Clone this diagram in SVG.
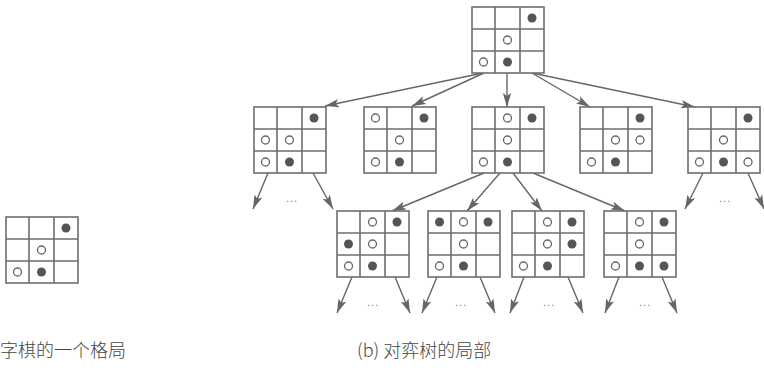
<svg xmlns="http://www.w3.org/2000/svg" xmlns:xlink="http://www.w3.org/1999/xlink" width="764" height="376" viewBox="0 0 764 376">
<style>
.g{fill:#fff;stroke:#6e6e6e;stroke-width:1.6}
.x{fill:#555}
.o{fill:#fff;stroke:#666;stroke-width:1.3}
.e{stroke:#666;stroke-width:1.4;fill:none}
.dots{font-family:"Liberation Sans",sans-serif;font-size:11px;fill:#777;text-anchor:middle;letter-spacing:1px}
.cap{font-family:"Noto Sans CJK SC","Liberation Sans",sans-serif;font-size:18px;fill:#444;font-weight:300}
</style>
<defs>
<marker id="ah" markerUnits="userSpaceOnUse" markerWidth="16" markerHeight="10" refX="14" refY="5" orient="auto">
<path d="M0,0.8 L14,5 L0,9.2 L3,5 Z" fill="#666"/>
</marker>
<g id="grid">
<rect class="g" x="0" y="0" width="72" height="66"/>
<path class="g" d="M23,0V66M48,0V66M0,22H72M0,44H72"/>
</g>
</defs>
<rect width="764" height="376" fill="#fff"/>

<g id="connectors">
<line class="e" x1="483" y1="73" x2="325" y2="106" marker-end="url(#ah)"/>
<line class="e" x1="484" y1="73" x2="412" y2="106" marker-end="url(#ah)"/>
<line class="e" x1="507" y1="73" x2="507" y2="107" marker-end="url(#ah)"/>
<line class="e" x1="532" y1="73" x2="590" y2="107" marker-end="url(#ah)"/>
<line class="e" x1="532" y1="73" x2="695" y2="107" marker-end="url(#ah)"/>
<line class="e" x1="268" y1="173" x2="253" y2="209" marker-end="url(#ah)"/>
<line class="e" x1="313" y1="173" x2="333" y2="209" marker-end="url(#ah)"/>
<line class="e" x1="484" y1="173" x2="392" y2="211" marker-end="url(#ah)"/>
<line class="e" x1="500" y1="173" x2="467" y2="211" marker-end="url(#ah)"/>
<line class="e" x1="513" y1="173" x2="542" y2="211" marker-end="url(#ah)"/>
<line class="e" x1="533" y1="173" x2="625" y2="211" marker-end="url(#ah)"/>
<line class="e" x1="703" y1="173" x2="685" y2="209" marker-end="url(#ah)"/>
<line class="e" x1="748" y1="173" x2="764" y2="209" marker-end="url(#ah)"/>
<line class="e" x1="352" y1="277" x2="337" y2="313" marker-end="url(#ah)"/>
<line class="e" x1="395" y1="277" x2="410" y2="313" marker-end="url(#ah)"/>
<line class="e" x1="437" y1="277" x2="422" y2="313" marker-end="url(#ah)"/>
<line class="e" x1="480" y1="277" x2="495" y2="313" marker-end="url(#ah)"/>
<line class="e" x1="524" y1="277" x2="510" y2="313" marker-end="url(#ah)"/>
<line class="e" x1="568" y1="277" x2="583" y2="313" marker-end="url(#ah)"/>
<line class="e" x1="619" y1="277" x2="605" y2="313" marker-end="url(#ah)"/>
<line class="e" x1="662" y1="277" x2="677" y2="313" marker-end="url(#ah)"/>
</g>

<g id="ellipses">
<text class="dots" x="292" y="202">...</text>
<text class="dots" x="725" y="202">...</text>
<text class="dots" x="373" y="306">...</text>
<text class="dots" x="461" y="306">...</text>
<text class="dots" x="549" y="306">...</text>
<text class="dots" x="645" y="306">...</text>
</g>

<g id="board-left" transform="translate(6,217)">
<use xlink:href="#grid"/>
<circle class="x" cx="60" cy="11" r="4.5"/>
<circle class="o" cx="35.5" cy="33" r="4"/>
<circle class="o" cx="11.5" cy="55" r="4"/>
<circle class="x" cx="35.5" cy="55" r="4.5"/>
</g>

<g id="node-root" transform="translate(472,7)">
<use xlink:href="#grid"/>
<circle class="x" cx="60" cy="11" r="4.5"/>
<circle class="o" cx="35.5" cy="33" r="4"/>
<circle class="o" cx="11.5" cy="55" r="4"/>
<circle class="x" cx="35.5" cy="55" r="4.5"/>
</g>

<g id="node-1" transform="translate(254,107)">
<use xlink:href="#grid"/>
<circle class="x" cx="60" cy="11" r="4.5"/>
<circle class="o" cx="11.5" cy="33" r="4"/>
<circle class="o" cx="35.5" cy="33" r="4"/>
<circle class="o" cx="11.5" cy="55" r="4"/>
<circle class="x" cx="35.5" cy="55" r="4.5"/>
</g>

<g id="node-2" transform="translate(364,107)">
<use xlink:href="#grid"/>
<circle class="o" cx="11.5" cy="11" r="4"/>
<circle class="x" cx="60" cy="11" r="4.5"/>
<circle class="o" cx="35.5" cy="33" r="4"/>
<circle class="o" cx="11.5" cy="55" r="4"/>
<circle class="x" cx="35.5" cy="55" r="4.5"/>
</g>

<g id="node-3" transform="translate(472,107)">
<use xlink:href="#grid"/>
<circle class="o" cx="35.5" cy="11" r="4"/>
<circle class="x" cx="60" cy="11" r="4.5"/>
<circle class="o" cx="35.5" cy="33" r="4"/>
<circle class="o" cx="11.5" cy="55" r="4"/>
<circle class="x" cx="35.5" cy="55" r="4.5"/>
</g>

<g id="node-4" transform="translate(580,107)">
<use xlink:href="#grid"/>
<circle class="x" cx="60" cy="11" r="4.5"/>
<circle class="o" cx="35.5" cy="33" r="4"/>
<circle class="o" cx="60" cy="33" r="4"/>
<circle class="o" cx="11.5" cy="55" r="4"/>
<circle class="x" cx="35.5" cy="55" r="4.5"/>
</g>

<g id="node-5" transform="translate(688,107)">
<use xlink:href="#grid"/>
<circle class="x" cx="60" cy="11" r="4.5"/>
<circle class="o" cx="35.5" cy="33" r="4"/>
<circle class="o" cx="11.5" cy="55" r="4"/>
<circle class="x" cx="35.5" cy="55" r="4.5"/>
<circle class="o" cx="60" cy="55" r="4"/>
</g>

<g id="node-3a" transform="translate(337,211)">
<use xlink:href="#grid"/>
<circle class="o" cx="35.5" cy="11" r="4"/>
<circle class="x" cx="60" cy="11" r="4.5"/>
<circle class="x" cx="11.5" cy="33" r="4.5"/>
<circle class="o" cx="35.5" cy="33" r="4"/>
<circle class="o" cx="11.5" cy="55" r="4"/>
<circle class="x" cx="35.5" cy="55" r="4.5"/>
</g>

<g id="node-3b" transform="translate(428,211)">
<use xlink:href="#grid"/>
<circle class="x" cx="11.5" cy="11" r="4.5"/>
<circle class="o" cx="35.5" cy="11" r="4"/>
<circle class="x" cx="60" cy="11" r="4.5"/>
<circle class="o" cx="35.5" cy="33" r="4"/>
<circle class="o" cx="11.5" cy="55" r="4"/>
<circle class="x" cx="35.5" cy="55" r="4.5"/>
</g>

<g id="node-3c" transform="translate(512,211)">
<use xlink:href="#grid"/>
<circle class="o" cx="35.5" cy="11" r="4"/>
<circle class="x" cx="60" cy="11" r="4.5"/>
<circle class="o" cx="35.5" cy="33" r="4"/>
<circle class="x" cx="60" cy="33" r="4.5"/>
<circle class="o" cx="11.5" cy="55" r="4"/>
<circle class="x" cx="35.5" cy="55" r="4.5"/>
</g>

<g id="node-3d" transform="translate(604,211)">
<use xlink:href="#grid"/>
<circle class="o" cx="35.5" cy="11" r="4"/>
<circle class="x" cx="60" cy="11" r="4.5"/>
<circle class="o" cx="35.5" cy="33" r="4"/>
<circle class="o" cx="11.5" cy="55" r="4"/>
<circle class="x" cx="35.5" cy="55" r="4.5"/>
<circle class="x" cx="60" cy="55" r="4.5"/>
</g>

<g id="captions">
<text class="cap" x="0" y="357">字棋的一个格局</text>
<text class="cap" x="357" y="357">(b) 对弈树的局部</text>
</g>
</svg>
